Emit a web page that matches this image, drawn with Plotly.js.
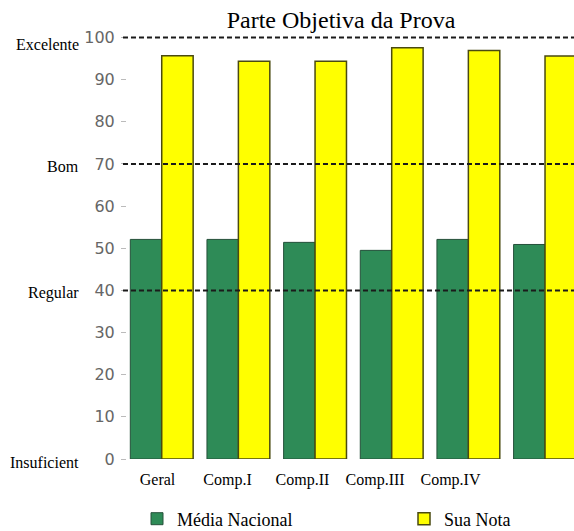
<!DOCTYPE html>
<html><head><meta charset="utf-8">
<script src="https://cdn.plot.ly/plotly-3.0.1.min.js"></script>
<style>html,body{margin:0;padding:0;background:#fff}#chart{width:574px;height:531px}</style>
</head><body><div id="chart"></div>
<script>
// ---- data ----
const categories = ['Geral', 'Comp.I', 'Comp.II', 'Comp.III', 'Comp.IV', 'Comp.V'];
const mediaNacional = [52.1, 52.1, 51.4, 49.5, 52.1, 50.9];
const suaNota = [95.7, 94.4, 94.4, 97.6, 96.9, 95.6];
const tickLabels = ['Geral', 'Comp.I', 'Comp.II', 'Comp.III', 'Comp.IV', ''];
const levelValues = [100, 70, 40, 0];
const levelLabels = ['Excelente', 'Bom', 'Regular', 'Insuficient'];
const dashedLevels = [100, 70, 40];
const seriesNames = ['Média Nacional', 'Sua Nota'];
const yTickValues = [0, 10, 20, 30, 40, 50, 60, 70, 80, 90, 100];

// ---- layout / style ----
const serif = 'Liberation Serif, Times New Roman, Times, serif';
const xIdx = categories.map((c, i) => i);
// label placement (style): slight offsets of the category labels
const labelShift = [-0.055, -0.142, -0.164, -0.217, -0.233, 0];
const labelPos = xIdx.map((i, k) => i + labelShift[k]);

const traces = [
  {type: 'bar', name: seriesNames[0], x: xIdx, y: mediaNacional, legend: 'legend',
   marker: {color: '#2E8B57', line: {color: '#25503a', width: 1}}, hoverinfo: 'skip'},
  {type: 'bar', name: seriesNames[1], x: xIdx, y: suaNota, legend: 'legend2',
   marker: {color: '#FFFF00', line: {color: '#4a4a10', width: 1.5}}, hoverinfo: 'skip'}
];

const shapes = dashedLevels.map(v => ({
  type: 'line', xref: 'paper', yref: 'y', x0: -0.009, x1: 1, y0: v, y1: v,
  line: {color: '#1a1a1a', width: 2, dash: '5px,3px'}, layer: 'above'
}));

const annotations = levelValues.map((v, i) => ({
  xref: 'paper', yref: 'y', x: -0.1025, y: v, xanchor: 'right', yanchor: 'middle',
  text: levelLabels[i], showarrow: false, yshift: i === 0 ? -7 : -3,
  font: {family: serif, size: 16, color: '#000'}
}));

function legendAt(px) {
  return {orientation: 'h', xref: 'container', yref: 'container', xanchor: 'left', x: px / 574,
    y: (531 - 519) / 531, yanchor: 'middle',
    font: {family: 'Liberation Serif', size: 18, color: '#000'}, bgcolor: 'rgba(0,0,0,0)', borderwidth: 0};
}

const layout = {
  width: 574, height: 531,
  font: {family: serif, color: '#000'},
  margin: {l: 127, r: 0, t: 34.5, b: 72, pad: 0},
  paper_bgcolor: '#fff', plot_bgcolor: '#fff',
  barmode: 'group', bargap: 0.18, bargroupgap: 0,
  title: {text: 'Parte Objetiva da Prova', font: {family: serif, size: 24, color: '#000'},
          xref: 'container', yref: 'container', x: 341 / 574, xanchor: 'center',
          y: 1 - 20 / 531, yanchor: 'middle'},
  xaxis: {type: 'linear', range: [-0.453, 5.378], tickmode: 'array', tickvals: labelPos,
          ticktext: tickLabels, showgrid: false, zeroline: false, showline: false, ticks: '',
          tickfont: {family: serif, size: 16, color: '#000'}, ticklabelstandoff: 9, fixedrange: true},
  yaxis: {range: [0, 100.6], tickmode: 'array', tickvals: yTickValues, showgrid: false,
          zeroline: false, showline: false, ticks: 'outside', ticklen: 5, tickcolor: '#bbb',
          tickwidth: 1, tickfont: {family: 'DejaVu Sans, sans-serif', size: 16, color: '#666'},
          ticklabelstandoff: 3, fixedrange: true},
  showlegend: true,
  legend: legendAt(137),
  legend2: legendAt(404),
  shapes: shapes,
  annotations: annotations
};

Plotly.newPlot('chart', traces, layout, {staticPlot: true, displayModeBar: false});
</script>
</body></html>
